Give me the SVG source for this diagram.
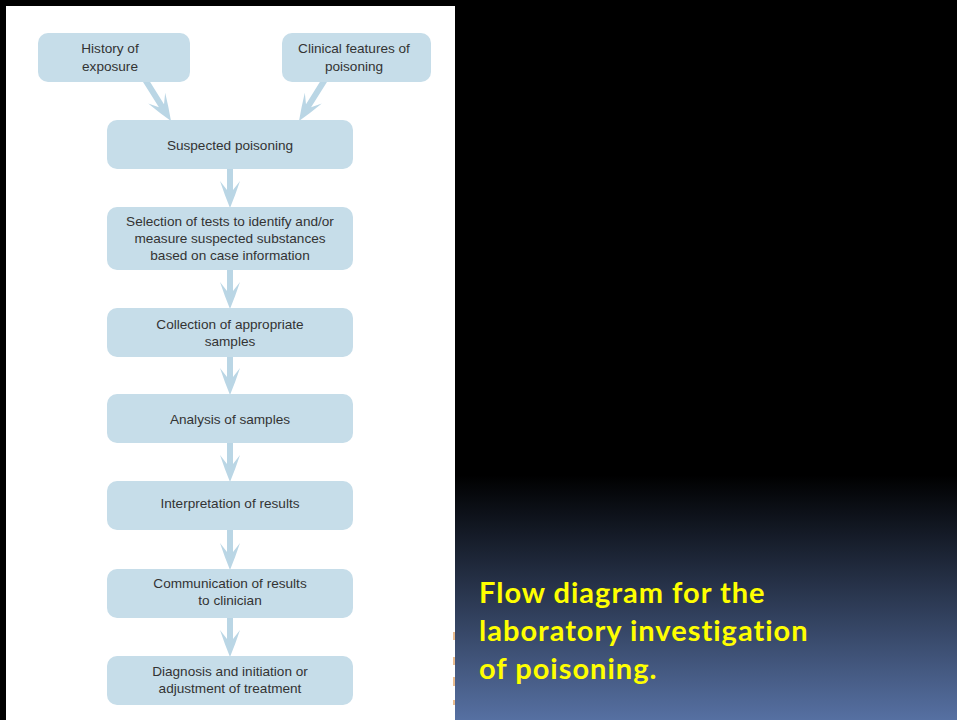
<svg xmlns="http://www.w3.org/2000/svg" width="957" height="720" viewBox="0 0 957 720">
<defs>
<linearGradient id="bg" x1="0" y1="0" x2="0" y2="720" gradientUnits="userSpaceOnUse">
<stop offset="0" stop-color="#000000"/>
<stop offset="0.66" stop-color="#000000"/>
<stop offset="0.74" stop-color="#141a26"/>
<stop offset="1" stop-color="#5670a2"/>
</linearGradient>
<path id="arr" d="M-3,-40 L3,-40 L3,-18 L10,-27 Q5,-12 0,0 Q-5,-12 -10,-27 L-3,-18 Z"/>
<path id="arrD" d="M-3,-48 L3,-48 L3,-18 L10,-27 Q5,-12 0,0 Q-5,-12 -10,-27 L-3,-18 Z"/>
<style>
.box{fill:#c6dde9}
.con{fill:#bad6e5}
.t{font-family:"Liberation Sans",Arial,sans-serif;font-size:13.6px;fill:#333;text-anchor:middle}
.title{font-family:Lato,"Open Sans",sans-serif;font-weight:bold;font-size:29px;letter-spacing:1px;fill:#ffff00}
</style>
</defs>
<rect x="0" y="0" width="957" height="720" fill="#000"/>
<rect x="6" y="6" width="449" height="714" fill="#ffffff"/>
<rect x="455" y="0" width="502" height="720" fill="url(#bg)"/>
<g id="connectors" class="con">
<use href="#arrD" transform="translate(171,121) rotate(-32)"/>
<use href="#arrD" transform="translate(299,121) rotate(32)"/>
<use href="#arr" transform="translate(230,208)"/>
<use href="#arr" transform="translate(230,309)"/>
<use href="#arr" transform="translate(230,395)"/>
<use href="#arr" transform="translate(230,482)"/>
<use href="#arr" transform="translate(230,570)"/>
<use href="#arr" transform="translate(230,657)"/>
</g>
<g id="n1"><rect class="box" x="38" y="33" width="152" height="49" rx="10"/><text class="t" x="110" y="53">History of</text><text class="t" x="110" y="71">exposure</text></g>
<g id="n2"><rect class="box" x="282" y="33" width="149" height="49" rx="10"/><text class="t" x="354" y="53">Clinical features of</text><text class="t" x="354" y="71">poisoning</text></g>
<g id="n3"><rect class="box" x="107" y="120" width="246" height="49" rx="10"/><text class="t" x="230" y="150">Suspected poisoning</text></g>
<g id="n4"><rect class="box" x="107" y="207" width="246" height="63" rx="10"/><text class="t" x="230" y="226">Selection of tests to identify and/or</text><text class="t" x="230" y="243">measure suspected substances</text><text class="t" x="230" y="260">based on case information</text></g>
<g id="n5"><rect class="box" x="107" y="308" width="246" height="49" rx="10"/><text class="t" x="230" y="329">Collection of appropriate</text><text class="t" x="230" y="346">samples</text></g>
<g id="n6"><rect class="box" x="107" y="394" width="246" height="49" rx="10"/><text class="t" x="230" y="424">Analysis of samples</text></g>
<g id="n7"><rect class="box" x="107" y="481" width="246" height="49" rx="10"/><text class="t" x="230" y="508">Interpretation of results</text></g>
<g id="n8"><rect class="box" x="107" y="569" width="246" height="49" rx="10"/><text class="t" x="230" y="588">Communication of results</text><text class="t" x="230" y="605">to clinician</text></g>
<g id="n9"><rect class="box" x="107" y="656" width="246" height="49" rx="10"/><text class="t" x="230" y="676">Diagnosis and initiation or</text><text class="t" x="230" y="693">adjustment of treatment</text></g>
<g id="marks" fill="#e0a060" opacity="0.7">
<rect x="453" y="632" width="2" height="8"/><rect x="453" y="657" width="2" height="8"/><rect x="453" y="677" width="2" height="9"/><rect x="453" y="700" width="2" height="5"/>
</g>
<g id="title">
<text class="title" x="479" y="603">Flow diagram for the</text>
<text class="title" x="479" y="641">laboratory investigation</text>
<text class="title" x="479" y="679">of poisoning.</text>
</g>
</svg>
